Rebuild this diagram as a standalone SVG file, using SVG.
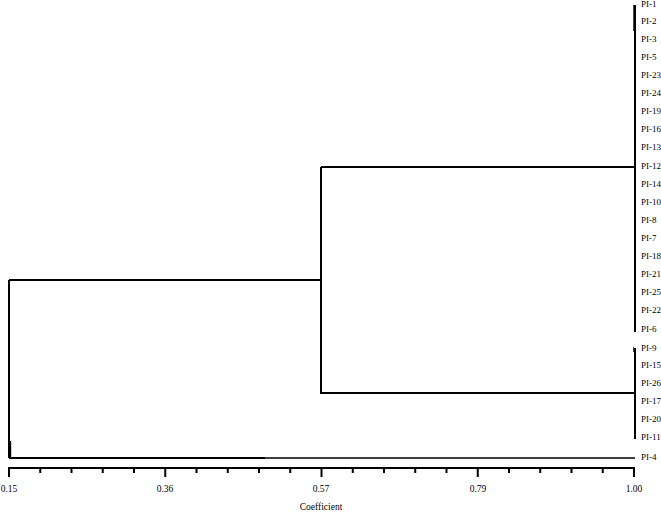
<svg xmlns="http://www.w3.org/2000/svg" width="661" height="512" viewBox="0 0 661 512">
<style>
.lbl{font-family:"Liberation Serif",serif;font-size:9px;fill:#000;dominant-baseline:middle}
.ax{font-family:"Liberation Serif",serif;font-size:9.5px;fill:#000;text-anchor:middle}
.br{stroke:#000;stroke-width:2;fill:none}
.thin{stroke:#000;stroke-width:1.4;fill:none}
.off{stroke:#444;stroke-width:1;fill:none}
</style>
<rect width="661" height="512" fill="#fff"/>
<g id="connectors">
<path class="br" d="M635,5V332M321,167H635M635,348V439M321,393H635M321,167V394M9,280H321M9,280V458M9,458H265"/>
<path class="off" d="M633.5,5V31M633.5,347V352"/>
<path class="thin" d="M265,458H635M10.5,441V458"/>
</g>
<g id="leaves">
<text class="lbl" x="641" y="5">PI-1</text>
<text class="lbl" x="641" y="22">PI-2</text>
<text class="lbl" x="641" y="40">PI-3</text>
<text class="lbl" x="641" y="58">PI-5</text>
<text class="lbl" x="641" y="76">PI-23</text>
<text class="lbl" x="641" y="94">PI-24</text>
<text class="lbl" x="641" y="112">PI-19</text>
<text class="lbl" x="641" y="130">PI-16</text>
<text class="lbl" x="641" y="148">PI-13</text>
<text class="lbl" x="641" y="167">PI-12</text>
<text class="lbl" x="641" y="185">PI-14</text>
<text class="lbl" x="641" y="203">PI-10</text>
<text class="lbl" x="641" y="221">PI-8</text>
<text class="lbl" x="641" y="239">PI-7</text>
<text class="lbl" x="641" y="257">PI-18</text>
<text class="lbl" x="641" y="275">PI-21</text>
<text class="lbl" x="641" y="293">PI-25</text>
<text class="lbl" x="641" y="311">PI-22</text>
<text class="lbl" x="641" y="330">PI-6</text>
<text class="lbl" x="641" y="349">PI-9</text>
<text class="lbl" x="641" y="366">PI-15</text>
<text class="lbl" x="641" y="384">PI-26</text>
<text class="lbl" x="641" y="402">PI-17</text>
<text class="lbl" x="641" y="420">PI-20</text>
<text class="lbl" x="641" y="438">PI-11</text>
<text class="lbl" x="641" y="458">PI-4</text>
</g>
<g id="axis">
<path class="br" d="M9,468H634M9,467V477M165.25,467V477M321.5,467V477M477.75,467V477M634,467V477"/>
<path class="br" d="M40.25,467V473M71.5,467V473M102.75,467V473M134,467V473M196.5,467V473M227.75,467V473M259,467V473M290.25,467V473M352.75,467V473M384,467V473M415.25,467V473M446.5,467V473M509,467V473M540.25,467V473M571.5,467V473M602.75,467V473"/>
<text class="ax" x="9" y="492">0.15</text>
<text class="ax" x="165" y="492">0.36</text>
<text class="ax" x="321" y="492">0.57</text>
<text class="ax" x="478" y="492">0.79</text>
<text class="ax" x="634" y="492">1.00</text>
<text class="ax" x="321" y="510" font-size="10">Coefficient</text>
</g>
</svg>
